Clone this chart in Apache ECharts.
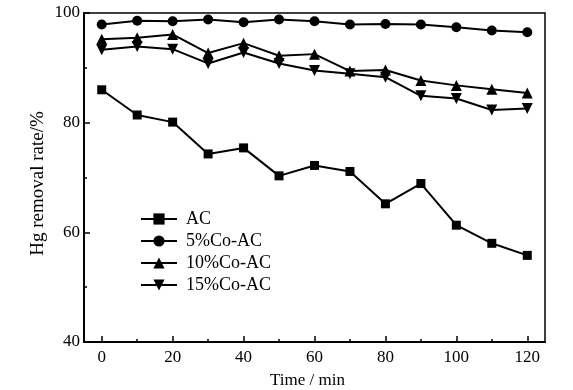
<!DOCTYPE html>
<html><head><meta charset="utf-8">
<script src="https://cdn.jsdelivr.net/npm/echarts@6/dist/echarts.min.js"></script>
<style>html,body{margin:0;padding:0;background:#fff}#c{width:573px;height:390px}</style>
</head><body><div id="c"></div>
<script>
const times = [0,10,20,30,40,50,60,70,80,90,100,110,120];
const seriesNames = ['AC','5%Co-AC','10%Co-AC','15%Co-AC'];
const acValues = [86.0,81.4,80.1,74.3,75.4,70.3,72.2,71.1,65.2,68.9,61.3,58.0,55.8];
const co5Values = [97.9,98.6,98.5,98.8,98.3,98.8,98.5,97.9,98.0,97.9,97.4,96.8,96.5];
const co10Values = [95.2,95.5,96.1,92.7,94.5,92.2,92.5,89.4,89.6,87.7,86.8,86.1,85.4];
const co15Values = [93.3,93.9,93.4,90.8,92.8,90.8,89.5,88.9,88.3,84.9,84.4,82.3,82.6];
const xMajorTicks = [0,20,40,60,80,100,120];
const xMinorTicks = [10,30,50,70,90,110];

const FONT = '"Liberation Serif","Times New Roman",serif';
const pair = v => times.map((t,i)=>[t,v[i]]);
const symbols = ['rect','circle','triangle','triangle'];
const rot = [0,0,0,180];
const sizes = [9,10,11,11];
const allVals = [acValues,co5Values,co10Values,co15Values];

const chart = echarts.init(document.getElementById('c'));
chart.setOption({
  animation:false,
  backgroundColor:'#fff',
  grid:{left:84,right:28,top:13,bottom:48,containLabel:false,outerBoundsMode:'none',show:true,borderColor:'#000',borderWidth:1.5,backgroundColor:'transparent'},
  legend:{
    orient:'vertical',left:140,top:210,padding:0,itemWidth:36,itemHeight:14,itemGap:4,
    symbolRotate:'inherit',
    textStyle:{fontFamily:FONT,fontSize:18,color:'#000',padding:[0,0,0,4]},
    data:seriesNames
  },
  xAxis:[{
    type:'value',min:-5,max:125,
    name:'Time / min',nameLocation:'middle',nameGap:30,nameMoveOverlap:false,
    nameTextStyle:{fontFamily:FONT,fontSize:17,color:'#000',padding:[0,14,0,0]},
    axisLine:{onZero:false,lineStyle:{color:'#000',width:2}},
    axisTick:{inside:true,length:6,customValues:xMajorTicks,lineStyle:{color:'#000',width:1.5}},
    axisLabel:{customValues:xMajorTicks,fontFamily:FONT,fontSize:17,color:'#000',margin:7},
    splitLine:{show:false}
  },{
    type:'value',min:-5,max:125,position:'bottom',
    axisLine:{show:false},
    axisTick:{inside:true,length:3,customValues:xMinorTicks,lineStyle:{color:'#000',width:1.5}},
    axisLabel:{show:false},
    splitLine:{show:false}
  }],
  yAxis:{
    type:'value',min:40,max:100,interval:20,
    name:'Hg removal rate/%',nameLocation:'middle',nameGap:36,nameMoveOverlap:false,
    nameTextStyle:{fontFamily:FONT,fontSize:19,color:'#000',padding:[0,12,0,0]},
    axisLine:{onZero:false,lineStyle:{color:'#000',width:2}},
    axisTick:{inside:true,length:6,lineStyle:{color:'#000',width:1.5}},
    minorTick:{show:true,splitNumber:2,length:3,lineStyle:{color:'#000',width:1.5}},
    axisLabel:{fontFamily:FONT,fontSize:17,color:'#000',margin:4},
    splitLine:{show:false}
  },
  series:seriesNames.map((n,i)=>({
    name:n,type:'line',xAxisIndex:0,data:pair(allVals[i]),
    symbol:symbols[i],symbolSize:sizes[i],symbolRotate:rot[i],showAllSymbol:true,
    lineStyle:{color:'#000',width:2},itemStyle:{color:'#000'},z:2+i
  }))
});
</script></body></html>
